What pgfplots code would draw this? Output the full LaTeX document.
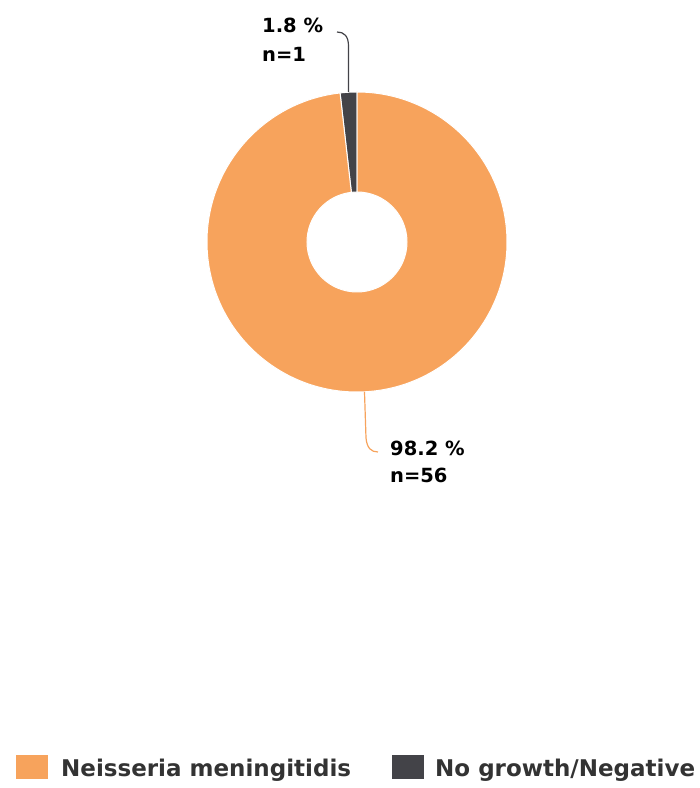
\documentclass[border=0pt]{standalone}
\usepackage{pgfplots}
\pgfplotsset{compat=1.18}
\usepackage{pgfplotstable}
\usepackage{fontspec}
\setmainfont{DejaVu Sans}
\definecolor{cOrange}{HTML}{F7A35C}
\definecolor{cDark}{HTML}{434348}
\definecolor{cText}{HTML}{333333}
\pgfplotstableread[col sep=comma]{
label,value,n
Neisseria meningitidis,98.2,56
No growth/Negative,1.8,1
}\piedata
\begin{document}
\begin{tikzpicture}
\pgfplotstablegetelem{0}{value}\of\piedata \let\vA\pgfplotsretval
\pgfplotstablegetelem{1}{value}\of\piedata \let\vB\pgfplotsretval
\pgfplotstablegetelem{0}{n}\of\piedata \let\nA\pgfplotsretval
\pgfplotstablegetelem{1}{n}\of\piedata \let\nB\pgfplotsretval
\pgfmathsetmacro{\aB}{90+3.6*\vB}% end angle of dark slice
\begin{axis}[
  width=700bp, height=788bp, scale only axis,
  xmin=0, xmax=700, ymin=0, ymax=788,
  hide axis, clip=false,
]
\addplot[draw=none] coordinates {(0,0) (700,788)};
% dark slice (starts at top, counter-clockwise)
\fill[cDark, draw=white, line width=1bp]
  ([shift={(axis cs:357,546)}]90:150bp) arc[start angle=90, end angle=\aB, radius=150bp]
  -- ([shift={(axis cs:357,546)}]\aB:50bp) arc[start angle=\aB, end angle=90, radius=50bp] -- cycle;
% orange slice
\fill[cOrange, draw=white, line width=1bp]
  ([shift={(axis cs:357,546)}]\aB:150bp) arc[start angle=\aB, end angle=450, radius=150bp]
  -- ([shift={(axis cs:357,546)}]450:50bp) arc[start angle=450, end angle=\aB, radius=50bp] -- cycle;
% connectors
\draw[cDark, line width=1.2bp] (axis cs:348.5,696) -- (axis cs:348.5,742) .. controls (axis cs:348.5,752) and (axis cs:344,756) .. (axis cs:337,756);
\draw[cOrange, line width=1.2bp] (axis cs:364.5,396) -- (axis cs:366,350) .. controls (axis cs:367,340) and (axis cs:371,336) .. (axis cs:378,336);
% data labels
\node[anchor=base west, inner sep=0pt, font=\fontsize{19.5bp}{23bp}\selectfont\bfseries] at (axis cs:262,755) {\vB~\%};
\node[anchor=base west, inner sep=0pt, font=\fontsize{19.5bp}{23bp}\selectfont\bfseries] at (axis cs:262,726) {n=\nB};
\node[anchor=base west, inner sep=0pt, font=\fontsize{19.5bp}{23bp}\selectfont\bfseries] at (axis cs:390,332) {\vA~\%};
\node[anchor=base west, inner sep=0pt, font=\fontsize{19.5bp}{23bp}\selectfont\bfseries] at (axis cs:390,305) {n=\nA};
% legend
\fill[cOrange] (axis cs:16,9) rectangle (axis cs:48,33);
\node[anchor=base west, inner sep=0pt, text=cText, font=\fontsize{23bp}{27bp}\selectfont\bfseries] at (axis cs:61,11.5) {Neisseria meningitidis};
\fill[cDark] (axis cs:392,9) rectangle (axis cs:424,33);
\node[anchor=base west, inner sep=0pt, text=cText, font=\fontsize{23bp}{27bp}\selectfont\bfseries] at (axis cs:435,11.5) {No growth/Negative};
\end{axis}
\end{tikzpicture}
\end{document}
